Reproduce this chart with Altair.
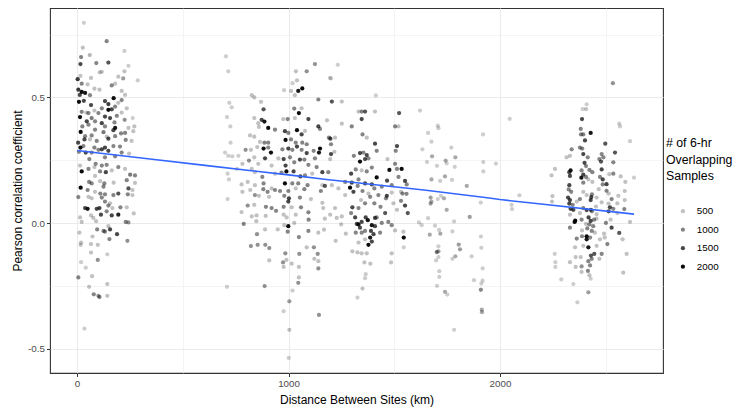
import altair as alt
import pandas as pd

# ---- cluster 1 (0-290 km) ----
g1_km = [32,140,27,224,60,19,91,148,16,243,117,107,224,16,66,195,218,287,3,22,50,164,180,6,22,38,82,106,13,61,
         211,227,173,132,9,32,211,195,66,148,180,235,117,148,164,82,44,22,54,101,211,263,14,69,132,156,188,225,46,85,
         117,177,271,25,54,132,180,243,17,85,125,172,227,266,38,69,148,180,208,5,35,61,93,140,230,258,30,82,117,132,
         172,203,16,101,148,211,246,9,41,69,180,58,132,14,88,117,140,195,227,22,54,82,109,136,164,251,274,85,57,69,
         109,129,173,235,274,17,50,125,243,262,6,54,85,110,132,172,195,117,240,262,69,132,156,205,38,50,93,106,148,167,
         235,113,164,195,140,268,14,66,77,22,90,230,243,148,95,125,132,156,11,73,153,189,238,19,17,66,98,66,143,98,
         19,41,6,71,143,57,79,106,101,143,35]
g1_r = [0.797,0.724,0.698,0.685,0.669,0.661,0.637,0.639,0.633,0.626,0.602,0.600,0.604,0.586,0.578,0.583,0.576,0.568,0.573,0.555,
        0.552,0.548,0.555,0.531,0.522,0.518,0.535,0.531,0.510,0.509,0.526,0.510,0.497,0.486,0.483,0.487,0.490,0.479,0.470,0.474,
        0.464,0.457,0.457,0.451,0.453,0.448,0.440,0.443,0.438,0.438,0.440,0.418,0.422,0.418,0.424,0.418,0.427,0.411,0.405,0.405,
        0.398,0.401,0.385,0.385,0.392,0.385,0.379,0.379,0.363,0.372,0.362,0.370,0.359,0.366,0.346,0.349,0.336,0.346,0.357,0.320,
        0.333,0.333,0.327,0.344,0.331,0.327,0.307,0.301,0.294,0.301,0.307,0.305,0.301,0.292,0.288,0.281,0.277,0.284,0.281,0.281,
        0.266,0.255,0.262,0.229,0.236,0.229,0.232,0.223,0.216,0.206,0.216,0.223,0.206,0.203,0.210,0.193,0.190,0.188,0.164,0.158,
        0.167,0.158,0.161,0.171,0.160,0.141,0.132,0.145,0.138,0.132,0.104,0.105,0.125,0.118,0.115,0.112,0.118,0.102,0.115,0.112,
        0.099,0.086,0.079,0.063,0.060,0.057,0.057,0.060,0.070,0.060,0.063,0.034,0.031,0.034,0.047,0.039,0.023,0.031,0.021,0.005,
        0.008,0.005,0.003,-0.012,-0.025,-0.031,-0.034,-0.025,-0.038,-0.053,-0.063,-0.044,-0.070,-0.077,-0.086,-0.083,-0.086,-0.117,-0.124,-0.146,
        -0.155,-0.177,-0.216,-0.211,-0.242,-0.253,-0.283,-0.294,-0.289,-0.289,-0.419]
g1_n = [400,1000,500,400,600,1000,1000,1400,1500,400,500,500,500,500,500,500,800,400,1600,1000,
        500,1000,500,1600,2000,1900,500,500,1500,1000,500,500,2000,1500,2000,1500,1000,500,1500,1600,
        1000,500,1000,2000,1500,500,500,1000,1000,1000,500,400,2000,1100,1500,1500,1000,900,1500,1000,
        1500,1000,500,1000,1000,1000,1900,500,2000,1000,1100,1500,1000,500,1000,1000,1500,1000,1000,1500,
        1500,500,1000,500,1000,500,1000,1000,1500,1500,1000,1000,2000,1000,1500,1000,500,1000,1500,1000,
        1000,1000,1000,500,1000,1000,1000,1000,500,2000,1000,500,1000,1500,500,1100,1000,500,1000,1000,
        500,1000,500,1000,500,2000,1000,1000,1400,500,1000,500,500,1000,1000,1000,1400,1000,1000,500,
        500,1000,500,1000,1500,1900,1500,1500,1000,500,500,1500,1500,1800,1000,500,500,500,500,500,
        500,1000,900,500,1000,1000,1000,1500,500,500,1000,1500,900,500,500,500,500,500,400,900,
        400,400,1000,500,500,500,1000,1000,900,500,400]

# ---- cluster 2 (700-1200 km) ----
g2_km = [704,715,1035,1086,1125,979,1019,1040,1065,1046,1012,1030,826,838,870,720,731,1141,1196,882,
         709,838,873,886,857,975,996,1027,1062,1049,1030,1094,1182,725,860,904,936,983,999,1040,
         1062,1078,1141,1149,818,838,865,886,904,986,1012,1034,1065,1086,726,797,822,852,882,904,
         917,971,999,1018,1040,1062,1086,1119,1149,1144,1191,700,715,734,763,813,838,889,952,977,
         1007,1054,1075,1125,782,857,920,986,1027,1094,1133,1160,1188,712,756,826,841,876,936,967,
         990,1024,1056,1078,1112,718,778,807,841,882,920,983,1018,1046,1090,1160,1172,782,819,881,
         901,936,960,999,1034,1075,1153,841,860,908,980,1002,1054,1106,712,999,807,838,893,920,
         941,977,1015,1059,1094,1160,1164,778,826,849,892,977,991,1034,1095,1172,788,848,999,980,
         1027,889,949,996,1094,1141,1168,851,1049,822,854,890,909,1086,1120,985,1051,1138,990,909,
         974,1122,1141,1015,977,1049,1141,1049,1046,709,887,1019,1004,977,1144,1004,1001]
g2_r = [0.664,0.604,0.604,0.604,0.633,0.529,0.557,0.568,0.536,0.526,0.526,0.509,0.509,0.500,0.483,0.479,0.461,0.492,0.578,0.453,
        0.422,0.418,0.411,0.404,0.398,0.414,0.414,0.456,0.457,0.438,0.418,0.414,0.409,0.385,0.383,0.379,0.372,0.366,0.359,0.370,
        0.353,0.367,0.385,0.375,0.349,0.344,0.323,0.320,0.320,0.331,0.333,0.320,0.320,0.314,0.320,0.292,0.292,0.303,0.297,0.301,
        0.281,0.294,0.297,0.292,0.305,0.292,0.279,0.288,0.297,0.281,0.340,0.281,0.268,0.266,0.268,0.249,0.262,0.258,0.258,0.255,
        0.262,0.253,0.253,0.258,0.236,0.236,0.229,0.229,0.242,0.232,0.223,0.203,0.203,0.197,0.216,0.216,0.203,0.184,0.197,0.201,
        0.206,0.206,0.186,0.190,0.197,0.174,0.154,0.164,0.151,0.158,0.138,0.158,0.158,0.158,0.151,0.151,0.148,0.125,0.132,0.135,
        0.125,0.132,0.128,0.128,0.138,0.135,0.128,0.112,0.109,0.105,0.109,0.099,0.102,0.096,0.096,0.086,0.070,0.073,0.065,0.060,
        0.049,0.065,0.063,0.063,0.043,0.081,0.060,0.044,0.027,0.031,0.029,0.034,0.023,0.034,0.014,0.018,-0.003,0.008,-0.012,-0.008,
        0.001,-0.025,-0.025,-0.034,-0.031,-0.038,-0.026,-0.044,-0.055,-0.091,-0.086,-0.086,-0.099,-0.096,-0.096,-0.120,-0.122,-0.122,-0.146,-0.148,
        -0.156,-0.142,-0.151,-0.161,-0.174,-0.174,-0.180,-0.216,-0.237,-0.253,-0.250,-0.268,-0.311,-0.350,-0.365,-0.424,-0.536]
g2_n = [400,400,500,900,900,400,400,500,2000,1900,500,500,500,500,500,400,400,1000,400,1400,
        400,500,1500,1900,500,500,1000,1000,500,2000,500,1500,500,400,500,2000,1000,1500,1000,2000,
        1500,500,1500,1000,500,500,500,1000,1000,2000,1000,1000,1000,1000,400,900,500,500,2000,1000,
        2000,1000,1500,1000,1500,1000,1500,1000,2000,1900,1000,400,400,400,400,900,500,1500,500,1500,
        1000,1500,1000,1000,500,500,500,1500,1000,1000,1000,1500,1000,400,400,500,500,1000,500,1000,
        2000,1500,1500,1000,500,400,500,500,500,1000,500,2000,1000,1000,1000,500,1400,500,500,1000,
        1000,1000,1000,1000,500,1000,1000,900,500,500,1000,1500,1000,500,400,1500,900,500,1000,1000,
        1000,1000,500,1000,1000,500,500,500,500,500,500,500,500,500,1000,500,1000,500,2000,500,
        500,500,500,1000,1000,500,500,900,1000,900,900,900,900,500,900,900,900,900,500,500,
        900,500,500,500,500,500,900,500,900,400,900,400,800,400,900,500,400]

# ---- cluster 3 (1190-1640 km) ----
g3_km = [1233,1201,1205,1252,1331,1346,1362,1409,1346,1523,1413,1622,1252,1299,1504,1520,1350,1370,1198,1220,
         1409,1201,1217,1201,1338,1354,1370,1309,1362,1378,1417,1513,1507,1633,1468,1504,1197,1338,1394,1318,
         1346,1370,1296,1417,1477,1513,1535,1268,1299,1331,1362,1394,1406,1441,1466,1488,1520,1551,1559,1205,
         1236,1291,1307,1327,1350,1378,1386,1425,1465,1488,1532,1539,1558,1268,1343,1302,1331,1362,1406,1435,
         1461,1496,1513,1532,1551,1564,1220,1197,1228,1252,1296,1315,1365,1409,1417,1457,1249,1323,1331,1346,
         1338,1394,1409,1375,1441,1472,1488,1504,1543,1318,1346,1362,1390,1402,1433,1271,1386,1394,1378,1545,
         1223,1331,1362,1545,1302,1326,1346,1370,1488,1359,1387,1485,1365,1362,1350,1326,1617,1630]
g3_r = [0.630,0.576,0.484,0.484,0.444,0.444,0.444,0.444,0.414,0.438,0.508,0.448,0.396,0.385,0.385,0.385,0.353,0.340,0.336,0.340,
        0.316,0.314,0.284,0.275,0.279,0.281,0.271,0.268,0.255,0.258,0.288,0.307,0.288,0.294,0.255,0.236,0.255,0.245,0.221,0.214,
        0.210,0.206,0.197,0.182,0.212,0.216,0.216,0.164,0.161,0.174,0.158,0.154,0.138,0.145,0.169,0.151,0.184,0.168,0.154,0.151,
        0.138,0.141,0.125,0.148,0.128,0.118,0.105,0.112,0.109,0.122,0.125,0.118,0.117,0.112,0.092,0.063,0.060,0.079,0.079,0.065,
        0.099,0.079,0.053,0.089,0.070,0.040,0.060,0.034,0.021,0.027,0.040,0.023,0.023,0.021,0.023,0.040,-0.005,-0.003,-0.005,0.005,
        -0.018,-0.008,-0.012,0.012,0.001,0.005,-0.008,-0.029,-0.034,-0.038,-0.038,-0.031,-0.031,-0.044,-0.038,-0.042,-0.057,-0.073,-0.086,-0.057,
        -0.070,-0.077,-0.064,-0.096,-0.112,-0.116,-0.120,-0.120,-0.120,-0.156,-0.161,-0.156,-0.203,-0.219,-0.260,-0.296,0.003,-0.008]
g3_n = [400,400,1400,500,500,1000,1400,500,1500,1400,400,400,500,1000,1000,500,1000,500,1500,500,
        1500,1000,500,1500,1500,1000,1500,1000,1500,1000,1000,1500,1000,400,500,1000,500,2000,1000,1000,
        500,1000,1500,2000,2000,1000,2000,1000,1500,1000,1500,1500,1000,1000,1500,1000,1000,1500,1000,500,
        500,2000,1500,1000,1000,500,1000,1000,1500,500,500,1000,1000,500,500,1500,1000,1000,1000,1000,
        1000,500,500,1000,1500,1400,500,500,500,500,1000,1500,1500,1500,1000,1400,500,1500,1900,1500,
        1500,1900,1500,1900,1000,1000,1000,500,500,1000,1000,1000,1500,1500,1000,500,1900,1500,2000,2000,
        500,500,500,400,500,500,500,500,500,500,500,500,400,400,500,400,400,400]

# ---- cluster 4 (1650-2100 km) ----
g4_km = [1706,1709,1660,1676,1770,1679,1789,1655,1702,1743,1748,1786,1920,1921,1981,1921,2046,1740,1717,1676,
         1773,1843,1672,1672,1676,1706,1721,1735,1748,1909,2092,2055,2057,1660,1693,1712,1718,1668,1775,1783,
         1857,1910,1709,1805,1811,1912,1701,1709,1709,1698,1775,1789,1866,1713,1713,1702,1740,1751,1877,1918,
         1918,1912,1910,1909,1914,1915,1783]
g4_r = [0.388,0.378,0.359,0.324,0.301,0.266,0.262,0.243,0.228,0.249,0.238,0.224,0.353,0.243,0.237,0.206,0.415,0.186,0.168,0.174,
        0.172,0.148,0.102,0.078,0.086,0.096,0.109,0.099,0.053,0.082,0.111,0.073,0.056,0.020,-0.010,-0.027,-0.042,-0.046,-0.033,0.007,
        0.025,-0.053,-0.092,-0.085,-0.104,-0.098,-0.115,-0.112,-0.135,-0.148,-0.142,-0.132,-0.132,-0.191,-0.214,-0.249,-0.273,-0.284,-0.227,-0.180,
        -0.229,-0.240,-0.264,-0.266,-0.344,-0.354,-0.424]
g4_n = [400,400,400,400,400,700,700,400,400,700,400,400,400,400,400,400,400,700,400,700,
        400,700,800,800,700,400,400,700,700,400,400,400,400,400,400,400,700,700,400,400,
        800,400,400,800,800,400,1100,800,400,400,400,700,400,400,400,400,700,400,400,400,
        400,400,700,400,700,700,400]

# ---- cluster 5 (2240-2640 km) ----
g5_km = [2410,2391,2407,2388,2382,2429,2383,2394,2402,2564,2568,2615,2498,2378,2389,2394,2339,2315,2331,2415,
         2481,2489,2544,2470,2478,2400,2407,2536,2260,2334,2328,2386,2423,2437,2481,2244,2331,2385,2394,2407,
         2418,2473,2486,2517,2536,2571,2634,2328,2394,2437,2486,2504,2593,2325,2337,2394,2435,2467,2504,2514,
         2590,2248,2322,2331,2378,2410,2432,2457,2528,2560,2246,2328,2344,2363,2429,2481,2514,2555,2590,2334,
         2347,2394,2410,2430,2454,2520,2536,2588,2331,2378,2435,2457,2514,2555,2356,2353,2386,2419,2429,2445,
         2457,2501,2523,2615,2407,2423,2441,2331,2388,2413,2434,2528,2492,2564,2363,2388,2410,2410,2426,2449,
         2473,2495,2580,2394,2418,2355,2457,2508,2259,2358,2382,2430,2446,2481,2434,2599,2262,2262,2331,2418,
         2426,2470,2358,2386,2416,2386,2423,2583,2290,2347,2429,2418,2366,2534]
g5_r = [0.473,0.454,0.454,0.414,0.375,0.359,0.353,0.353,0.329,0.396,0.385,0.326,0.316,0.301,0.297,0.275,0.294,0.262,0.268,0.262,
        0.275,0.262,0.281,0.255,0.245,0.240,0.227,0.242,0.216,0.210,0.203,0.210,0.212,0.203,0.214,0.190,0.188,0.181,0.193,0.184,
        0.174,0.184,0.174,0.195,0.197,0.186,0.181,0.151,0.161,0.164,0.154,0.155,0.164,0.134,0.125,0.125,0.115,0.135,0.129,0.118,
        0.128,0.108,0.102,0.092,0.096,0.112,0.104,0.102,0.096,0.109,0.086,0.078,0.073,0.086,0.092,0.083,0.078,0.079,0.092,0.057,
        0.053,0.060,0.052,0.053,0.066,0.063,0.057,0.056,0.034,0.040,0.047,0.036,0.047,0.040,0.010,0.005,0.014,0.023,0.009,0.014,
        0.018,0.001,0.014,0.005,-0.003,-0.005,-0.012,-0.018,-0.029,-0.021,-0.031,-0.018,-0.042,-0.039,-0.061,-0.052,-0.052,-0.064,-0.057,-0.038,
        -0.064,-0.057,-0.064,-0.090,-0.096,-0.096,-0.090,-0.083,-0.122,-0.135,-0.135,-0.129,-0.122,-0.122,-0.142,-0.122,-0.155,-0.174,-0.155,-0.151,
        -0.168,-0.142,-0.174,-0.172,-0.190,-0.194,-0.207,-0.197,-0.224,-0.242,-0.221,-0.275,-0.315,0.557]
g5_n = [400,400,500,1500,1000,1900,1000,1000,1500,400,400,400,1400,1000,1000,1500,1000,500,500,1000,
        1000,1000,1400,1000,1400,1500,1000,1000,500,1900,1500,1000,1000,1000,1500,500,1500,1900,1500,1000,
        500,1000,1500,500,1000,500,400,1500,1000,500,1000,1500,500,1000,1000,500,1000,500,1000,500,
        500,500,1500,1500,1000,500,1500,500,1000,500,500,1500,1000,500,1500,500,500,500,500,1500,
        1500,1000,1500,1500,500,1500,1000,1000,500,500,1000,500,1500,500,2000,2000,1000,1500,1500,1000,
        500,1000,500,500,500,1000,1000,1000,500,1000,1000,1500,500,1400,1000,1000,2000,1900,1000,500,
        500,500,500,500,1900,500,500,1000,400,500,500,1400,1400,1000,1000,500,400,400,500,1000,
        1000,500,500,900,1000,500,500,500,400,400,400,800,400,900]

# ---- smoothed trend ----
smooth_km = [0, 345, 605, 1000, 1180, 1640, 1940, 2000, 2150, 2634]
smooth_r = [0.289, 0.255, 0.230, 0.192, 0.174, 0.132, 0.101, 0.094, 0.080, 0.036]

x_ticks = [0, 500, 1000, 1500, 2000, 2500]
y_ticks = [-0.5, -0.25, 0, 0.25, 0.5, 0.75]
legend_values = [500, 1000, 1500, 2000]

points = pd.DataFrame({
    "km": g1_km + g2_km + g3_km + g4_km + g5_km,
    "r": g1_r + g2_r + g3_r + g4_r + g5_r,
    "n": g1_n + g2_n + g3_n + g4_n + g5_n,
})
trend = pd.DataFrame({"km": smooth_km, "r": smooth_r})

FONT = "Liberation Sans"
x_scale = alt.Scale(domain=[-128, 2771], nice=False, zero=False)
y_scale = alt.Scale(domain=[-0.596, 0.856], nice=False, zero=False)

x_major = "datum.value % 1000 === 0"
y_major = "indexof([-0.5, 0, 0.5], datum.value) >= 0"

x_axis = alt.Axis(
    values=x_ticks, format="d",
    labelExpr=f"{x_major} ? datum.label : ''",
    domain=False, grid=True, gridColor="#EBEBEB",
    gridWidth={"condition": {"test": x_major, "value": 1.1}, "value": 0.55},
    tickColor="#333333", tickSize=3.5, tickWidth=1,
    tickOpacity={"condition": {"test": x_major, "value": 1}, "value": 0},
    labelColor="#4D4D4D", labelFontSize=9.8, labelPadding=2, labelFont=FONT,
    title="Distance Between Sites (km)", titleFont=FONT, titleFontSize=12,
    titleFontWeight="normal", titleColor="#000000",
    titleX=306.5, titleY=26, titleAlign="center", titleBaseline="middle",
)
y_axis = alt.Axis(
    values=y_ticks,
    labelExpr=f"{y_major} ? (datum.value < 0 ? '-' + format(-datum.value, '.1f') : format(datum.value, '.1f')) : ''",
    domain=False, grid=True, gridColor="#EBEBEB",
    gridWidth={"condition": {"test": y_major, "value": 1.1}, "value": 0.55},
    tickColor="#333333", tickSize=3.5, tickWidth=1,
    tickOpacity={"condition": {"test": y_major, "value": 1}, "value": 0},
    labelColor="#4D4D4D", labelFontSize=9.8, labelPadding=2, labelFont=FONT,
    title="Pearson correlation coefficient", titleFont=FONT, titleFontSize=12,
    titleFontWeight="normal", titleColor="#000000",
    titleX=-33, titleY=182.5, titleAlign="center", titleBaseline="middle", titleAngle=-90,
)

dots = alt.Chart(points).mark_circle(size=18, color="black", strokeWidth=0).encode(
    x=alt.X("km:Q", scale=x_scale, axis=x_axis),
    y=alt.Y("r:Q", scale=y_scale, axis=y_axis),
    opacity=alt.Opacity(
        "n:Q",
        scale=alt.Scale(domain=[200, 2100], range=[0.1, 1.0]),
        legend=alt.Legend(
            title=["# of 6-hr", "Overlapping", "Samples"],
            values=legend_values, format="d", orient="none", legendX=616, legendY=129,
            symbolType="circle", symbolSize=18, symbolStrokeWidth=0,
            symbolOffset=12, labelOffset=9, rowPadding=7.5,
            labelFont=FONT, labelFontSize=9.8, labelColor="#000000",
            titleFont=FONT, titleFontSize=12.3, titleFontWeight="normal",
            titleColor="#000000", titleLineHeight=16.5, titlePadding=24,
        ),
    ),
)

line = alt.Chart(trend).mark_line(color="#3366FF", strokeWidth=1.6).encode(
    x=alt.X("km:Q", scale=x_scale),
    y=alt.Y("r:Q", scale=y_scale),
)

chart = (
    alt.layer(dots, line)
    .properties(
        width=613, height=365,
        padding={"left": 42, "top": 0, "right": 71, "bottom": 35},
        autosize=alt.AutoSizeParams(type="none"),
        background="white",
    )
    .configure(font=FONT)
    .configure_view(stroke="#333333", strokeWidth=1.1)
)

chart.save("out.html", embed_options={"renderer": "svg", "actions": False})
